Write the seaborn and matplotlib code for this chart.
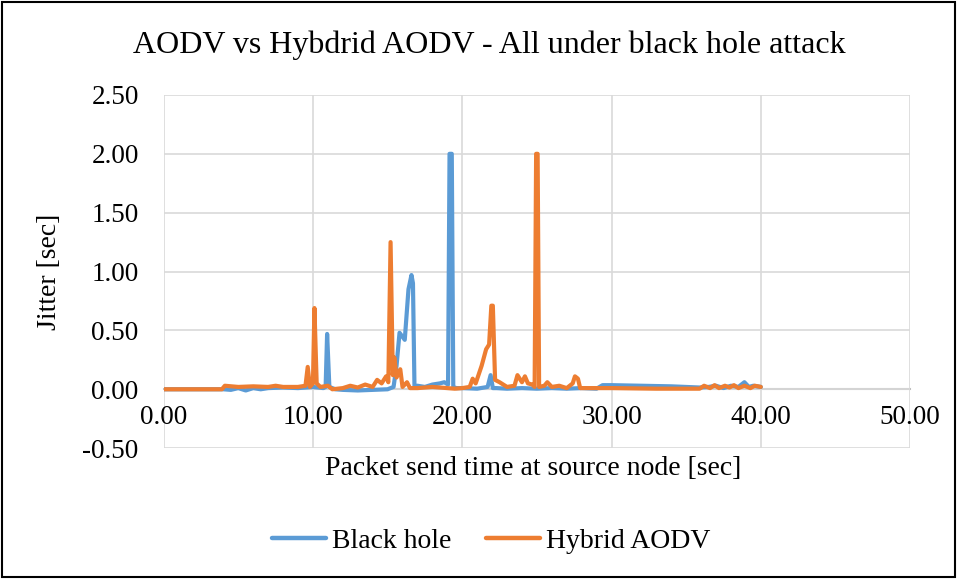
import numpy as np
import pandas as pd
import seaborn as sns
import matplotlib.pyplot as plt
from matplotlib.patches import Rectangle
from matplotlib.ticker import FormatStrFormatter

# ---- data ----
bh_x = [0, 4.0, 4.5, 5.0, 5.5, 6.0, 6.5, 7.0, 8.0, 9.0, 10.0, 10.7, 10.85, 10.95, 11.1, 11.5,
        12.0, 13.0, 14.0, 15.0, 15.4, 15.6, 15.8, 16.15, 16.4, 16.6, 16.7, 16.8, 17.0, 17.5,
        18.0, 18.5, 18.8, 19.05, 19.15, 19.3, 19.4, 19.6, 20.0, 21.0, 21.7, 21.9, 22.05, 22.3,
        23.0, 24.0, 25.0, 26.0, 27.0, 28.0, 29.0, 29.4, 30.0, 32.0, 34.0, 35.9, 36.5, 37.0,
        37.5, 38.0, 38.5, 38.9, 39.2, 39.5, 40.0]
bh_y = [0.0, 0.0, -0.005, 0.01, -0.01, 0.01, 0.0, 0.01, 0.015, 0.01, 0.02, 0.01, 0.02, 0.47,
        0.02, 0.0, -0.005, -0.01, -0.005, 0.0, 0.02, 0.2, 0.48, 0.42, 0.85, 0.97, 0.9, 0.03,
        0.03, 0.02, 0.04, 0.05, 0.06, 0.04, 2.0, 2.0, 0.02, 0.01, 0.01, 0.005, 0.02, 0.12, 0.01,
        0.01, 0.005, 0.01, 0.005, 0.01, 0.005, 0.01, 0.005, 0.035, 0.035, 0.03, 0.025, 0.015,
        0.02, 0.03, 0.01, 0.03, 0.02, 0.06, 0.02, 0.03, 0.02]

hy_x = [0, 3.9, 4.1, 5.0, 6.0, 7.0, 7.5, 8.0, 9.0, 9.5, 9.65, 9.8, 10.0, 10.1, 10.25, 10.5,
        11.0, 11.3, 12.0, 12.5, 13.0, 13.5, 14.0, 14.3, 14.6, 14.9, 15.05, 15.2, 15.35, 15.45,
        15.6, 15.85, 16.0, 16.3, 16.5, 17.0, 18.0, 19.0, 19.5, 20.0, 20.5, 20.7, 20.9, 21.3,
        21.6, 21.8, 21.95, 22.05, 22.2, 22.5, 23.0, 23.5, 23.7, 24.0, 24.2, 24.4, 24.7, 24.85,
        24.95, 25.05, 25.15, 25.5, 25.7, 26.0, 26.5, 27.0, 27.4, 27.55, 27.75, 27.9, 28.5,
        30.0, 33.0, 35.9, 36.2, 36.6, 36.9, 37.2, 37.6, 37.9, 38.2, 38.5, 38.9, 39.3, 39.6, 40.0]
hy_y = [0.0, 0.0, 0.03, 0.02, 0.025, 0.02, 0.03, 0.02, 0.02, 0.03, 0.19, 0.02, 0.05, 0.69,
        0.05, 0.02, 0.03, 0.0, 0.01, 0.03, 0.015, 0.04, 0.02, 0.08, 0.05, 0.11, 0.06, 1.25,
        0.12, 0.27, 0.1, 0.17, 0.02, 0.06, 0.01, 0.01, 0.02, 0.01, 0.005, 0.01, 0.02, 0.09,
        0.05, 0.2, 0.34, 0.38, 0.71, 0.71, 0.08, 0.06, 0.02, 0.03, 0.12, 0.06, 0.11, 0.05,
        0.04, 0.02, 2.0, 2.0, 0.02, 0.03, 0.06, 0.02, 0.03, 0.01, 0.05, 0.11, 0.09, 0.01, 0.01,
        0.01, 0.005, 0.005, 0.03, 0.01, 0.035, 0.01, 0.03, 0.015, 0.035, 0.01, 0.03, 0.01,
        0.03, 0.02]

series_names = ["Black hole", "Hybrid AODV"]
colors = ["#5B9BD5", "#ED7D31"]
x_ticks = [0, 10, 20, 30, 40, 50]
y_ticks = [-0.5, 0.0, 0.5, 1.0, 1.5, 2.0, 2.5]

df = pd.concat([
    pd.DataFrame({"time": bh_x, "jitter": bh_y, "series": series_names[0]}),
    pd.DataFrame({"time": hy_x, "jitter": hy_y, "series": series_names[1]}),
], ignore_index=True)

sns.set_theme(style="white")
plt.rcParams["font.family"] = ["Liberation Serif", "DejaVu Serif"]
plt.rcParams["text.color"] = "black"

fig = plt.figure(figsize=(9.57, 5.79), dpi=100)
ax = fig.add_axes([0.171, 0.226, 0.780, 0.610])

sns.lineplot(data=df, x="time", y="jitter", hue="series", hue_order=series_names,
             palette=colors, estimator=None, sort=False, linewidth=3.0, ax=ax, legend=False)

ax.set_xlim(0, 50)
ax.set_ylim(-0.5, 2.5)
ax.set_xticks(x_ticks)
ax.set_yticks(y_ticks)
ax.xaxis.set_major_formatter(FormatStrFormatter("%.2f"))
ax.yaxis.set_major_formatter(FormatStrFormatter("%.2f"))
ax.grid(True, color="#D9D9D9", linewidth=1.2)
ax.set_axisbelow(True)
for s in ["top", "right", "left"]:
    ax.spines[s].set_visible(False)
ax.spines["bottom"].set_position(("data", 0))
ax.spines["bottom"].set_color("#BFBFBF")
ax.spines["bottom"].set_linewidth(1.5)
ax.spines["bottom"].set_zorder(0.5)
ax.tick_params(axis="x", length=0, pad=11, labelsize=19.5, colors="black", labelcolor="black")
ax.tick_params(axis="y", length=0, pad=18, labelsize=19.5, colors="black", labelcolor="black")

ax.set_xlabel("")
ax.set_ylabel("")
fig.text(0.557, 0.190, "Packet send time at source node [sec]", ha="center", va="center",
         fontsize=20, color="black")
fig.text(0.052, 0.530, "Jitter [sec]", ha="center", va="center", rotation=90, fontsize=20,
         color="black")
fig.text(0.511, 0.922, "AODV vs Hybdrid AODV - All under black hole attack", ha="center",
         va="center", fontsize=23, color="black")

handles = [plt.Line2D([], [], color=c, linewidth=3.2) for c in colors]
leg = fig.legend(handles, series_names, loc="center", bbox_to_anchor=(0.513, 0.065), ncol=2,
                 frameon=False, fontsize=20, handlelength=1.95, handletextpad=0.2,
                 columnspacing=1.25)
for t in leg.get_texts():
    t.set_color("black")

fig.patches.append(Rectangle((0.002, 0.003), 0.996, 0.994, transform=fig.transFigure,
                             fill=False, edgecolor="black", linewidth=1.5))

fig.savefig("out.png", dpi=100)
